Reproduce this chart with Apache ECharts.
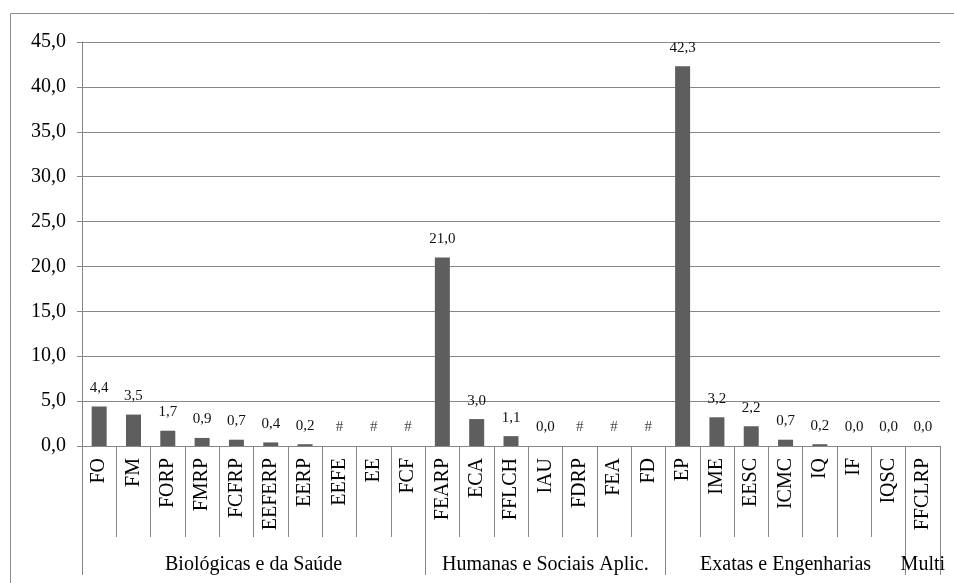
<!DOCTYPE html>
<html>
<head>
<meta charset="utf-8">
<script src="https://cdn.jsdelivr.net/npm/echarts@6/dist/echarts.min.js"></script>
<style>
  html, body { margin: 0; padding: 0; background: #fff; }
  #chart { width: 954px; height: 583px; }
</style>
</head>
<body>
<div id="chart"></div>
<script>
// Units, their share (%) and the knowledge area they belong to
const categories = ['FO','FM','FORP','FMRP','FCFRP','EEFERP','EERP','EEFE','EE','FCF',
  'FEARP','ECA','FFLCH','IAU','FDRP','FEA','FD',
  'EP','IME','EESC','ICMC','IQ','IF','IQSC',
  'FFCLRP'];
// null = no data for the unit (shown as "#")
const values = [4.4, 3.5, 1.7, 0.9, 0.7, 0.4, 0.2, null, null, null,
  21.0, 3.0, 1.1, 0.0, null, null, null,
  42.3, 3.2, 2.2, 0.7, 0.2, 0.0, 0.0,
  0.0];
const groupNames = ['Biológicas e da Saúde', 'Humanas e Sociais Aplic.', 'Exatas e Engenharias', 'Multi'];
const groupSizes = [10, 7, 7, 1];
const yTicks = [0, 5, 10, 15, 20, 25, 30, 35, 40, 45];

const serif = '"Liberation Serif", "Times New Roman", serif';
const gridColor = '#878787';
const fmt = v => v.toFixed(1).replace('.', ',');

// group boundaries and centres along the category scale
const bounds = [0];
groupSizes.forEach(n => bounds.push(bounds[bounds.length - 1] + n));
const centers = groupSizes.map((n, i) => bounds[i] + n / 2);

const missing = values.map((v, i) => v === null ? [categories[i], 0] : null).filter(Boolean);

const chart = echarts.init(document.getElementById('chart'), null, { renderer: 'canvas' });
chart.setOption({
  animation: false,
  backgroundColor: '#fff',
  grid: { left: 82, right: 14, top: 42, bottom: 137, containLabel: false },
  graphic: [{
    type: 'rect', silent: true,
    shape: { x: 10.5, y: 13.5, width: 980, height: 620 },
    style: { fill: 'none', stroke: '#8c8c8c', lineWidth: 1 }
  }],
  xAxis: [{
    type: 'category',
    data: categories,
    position: 'bottom',
    axisLine: { show: true, lineStyle: { color: gridColor, width: 1 } },
    axisTick: { show: true, interval: 0, length: 91, lineStyle: { color: gridColor } },
    axisLabel: {
      interval: 0, rotate: 90, margin: 12,
      fontFamily: serif, fontSize: 20, color: '#000'
    }
  }, {
    // knowledge-area row below the unit names
    type: 'value',
    min: 0, max: bounds[bounds.length - 1],
    position: 'bottom',
    axisLine: { show: false },
    splitLine: { show: false },
    axisTick: { show: true, length: 129, customValues: bounds, lineStyle: { color: gridColor } },
    axisLabel: {
      show: true, customValues: centers, margin: 109,
      fontFamily: serif, fontSize: 20, color: '#000',
      formatter: v => groupNames[centers.indexOf(v)] || ''
    }
  }],
  yAxis: {
    type: 'value',
    min: 0, max: 45, interval: 5,
    axisLine: { show: true, lineStyle: { color: gridColor, width: 1 } },
    axisTick: { show: true, length: 5, lineStyle: { color: gridColor } },
    splitLine: { show: true, lineStyle: { color: gridColor, width: 1 } },
    axisLabel: {
      margin: 16, fontFamily: serif, fontSize: 20, color: '#000',
      formatter: v => yTicks.includes(v) ? fmt(v) : ''
    }
  },
  series: [{
    type: 'bar',
    xAxisIndex: 0,
    data: values.map(v => v === null ? '-' : v),
    barWidth: 15,
    itemStyle: { color: '#5e5e5e' },
    label: {
      show: true, position: 'top', distance: 11,
      fontFamily: serif, fontSize: 15, color: '#111',
      formatter: p => fmt(p.value)
    }
  }, {
    // units without data: "#" marker sitting on the baseline
    type: 'scatter',
    xAxisIndex: 0,
    data: missing,
    symbol: 'circle',
    symbolSize: 1,
    itemStyle: { color: 'rgba(0,0,0,0)' },
    label: {
      show: true, position: 'top', distance: 11,
      fontFamily: serif, fontSize: 15, color: '#111',
      formatter: () => '#'
    }
  }]
});
</script>
</body>
</html>
